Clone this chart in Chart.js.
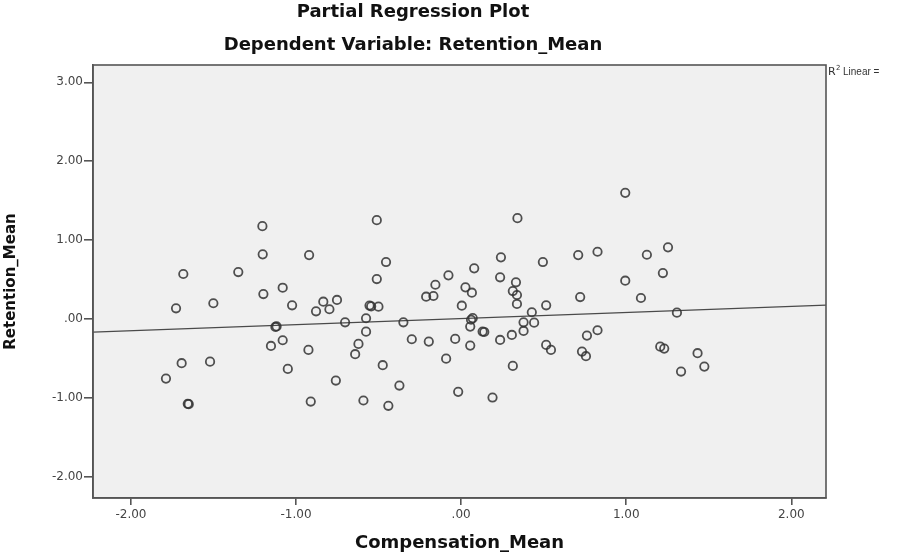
<!DOCTYPE html>
<html>
<head>
<meta charset="utf-8">
<title>Partial Regression Plot</title>
<script src="https://cdn.jsdelivr.net/npm/chart.js@4.4.1/dist/chart.umd.min.js"></script>
<style>
  html, body { margin: 0; padding: 0; background: #fff; overflow: hidden; }
  canvas { display: block; }
</style>
</head>
<body>
<canvas id="plot" width="916" height="556"></canvas>
<script>
// Compensation_Mean (x) and Retention_Mean (y)
const compX = [
  -1.204, -1.202, -0.921, -1.683, -1.350, -1.081, -1.198, -1.727, -1.501, -1.024,
  -0.835, -0.879, -0.798, -0.752, -1.125, -1.118, -1.081, -1.152, -0.925, -1.693,
  -1.521, -1.050, -1.788, -0.759, -1.656, -1.650, -0.911,
  -0.511, 0.341, -0.455, 0.241, 0.495, 0.709, -0.511, -0.077, 0.079,
  0.236, -0.156, 0.026, 0.065, 0.332, 0.313, 0.338, -0.212, -0.168, -0.555,
  -0.545, -0.501, 0.004, 0.338, 0.515, 0.721, 0.428, -0.703, -0.576, -0.350,
  0.060, 0.070, 0.055, 0.378, 0.442, -0.576, 0.130, 0.140, 0.378, 0.307,
  0.236, -0.299, -0.196, -0.036, 0.055, -0.622, -0.642, 0.515, 0.544, -0.091,
  -0.475, 0.313, -0.374, -0.592, -0.441, -0.018, 0.190,
  0.994, 0.826, 1.125, 1.253, 1.222, 0.994, 1.089, 1.307, 0.826, 0.762,
  0.732, 0.756, 1.206, 1.230, 1.432, 1.473, 1.332
];
const retY = [
  1.177, 0.819, 0.810, 0.570, 0.595, 0.396, 0.316, 0.135, 0.199, 0.173,
  0.219, 0.097, 0.123, 0.241, -0.101, -0.095, -0.270, -0.342, -0.392, -0.561,
  -0.541, -0.633, -0.756, -0.781, -1.076, -1.080, -1.047,
  1.253, 1.278, 0.722, 0.781, 0.722, 0.810, 0.506, 0.553, 0.642,
  0.528, 0.434, 0.401, 0.333, 0.465, 0.354, 0.304, 0.282, 0.291, 0.170,
  0.160, 0.156, 0.168, 0.190, 0.173, 0.278, 0.085, -0.042, 0.009, -0.042,
  -0.010, 0.010, -0.097, -0.042, -0.047, -0.161, -0.160, -0.165, -0.152, -0.203,
  -0.266, -0.257, -0.287, -0.253, -0.338, -0.316, -0.447, -0.329, -0.392, -0.503,
  -0.586, -0.595, -0.844, -1.034, -1.101, -0.924, -0.996,
  1.599, 0.852, 0.814, 0.908, 0.582, 0.485, 0.266, 0.080, -0.143, -0.211,
  -0.414, -0.472, -0.351, -0.376, -0.434, -0.604, -0.667
];

// fit line (R2 Linear)
const fitSlope = 0.077;
const fitIntercept = 0.005;

// axis ranges and ticks
const xRange = [-2.23, 2.21];
const yRange = [-2.27, 3.22];
const xTicks = [-2, -1, 0, 1, 2];
const yTicks = [-2, -1, 0, 1, 2, 3];

const punktai = compX.map((x, i) => ({ x: x, y: retY[i] }));
const linija = xRange.map(x => ({ x: x, y: fitSlope * x + fitIntercept }));

function fmt(v) {
  return Number(v).toFixed(2).replace(/^(-?)0\./, '$1.');
}

const fonas = {
  id: 'fonas',
  beforeDraw(chart) {
    const { ctx, chartArea: a } = chart;
    ctx.save();
    ctx.fillStyle = '#f0f0f0';
    ctx.fillRect(a.left, a.top, a.right - a.left, a.bottom - a.top);
    ctx.restore();
  },
  afterDraw(chart) {
    const { ctx, chartArea: a } = chart;
    ctx.save();
    ctx.strokeStyle = '#555';
    ctx.lineWidth = 1.6;
    ctx.strokeRect(a.left, a.top, a.right - a.left, a.bottom - a.top);
    // R2 label to the right of the frame
    ctx.fillStyle = '#333';
    ctx.font = '11px "DejaVu Sans"';
    ctx.textBaseline = 'middle';
    ctx.fillText('R', a.right + 2, a.top + 7);
    ctx.font = '7px "DejaVu Sans"';
    ctx.fillText('2', a.right + 10, a.top + 3);
    ctx.font = '10px "Liberation Sans"';
    ctx.fillText('Linear =', a.right + 17, a.top + 7);
    ctx.restore();
  }
};

const tickFont = { family: 'DejaVu Sans', size: 12 };

new Chart(document.getElementById('plot'), {
  type: 'scatter',
  data: {
    datasets: [
      {
        data: punktai,
        pointStyle: 'circle',
        pointRadius: 4.2,
        pointBorderWidth: 1.8,
        borderColor: 'rgba(50,50,50,0.85)',
        backgroundColor: 'rgba(0,0,0,0)',
        order: 1
      },
      {
        type: 'line',
        data: linija,
        showLine: true,
        pointRadius: 0,
        borderWidth: 1.4,
        borderColor: '#4a4a4a',
        order: 2
      }
    ]
  },
  options: {
    responsive: false,
    animation: false,
    devicePixelRatio: 1,
    layout: { padding: { left: 0, right: 90, top: 0, bottom: 0 } },
    plugins: {
      legend: { display: false },
      tooltip: { enabled: false },
      title: {
        display: true,
        text: 'Partial Regression Plot',
        color: '#111',
        font: { family: 'DejaVu Sans', size: 18, weight: 'bold' },
        padding: { top: 2, bottom: 4 }
      },
      subtitle: {
        display: true,
        text: 'Dependent Variable: Retention_Mean',
        color: '#111',
        font: { family: 'DejaVu Sans', size: 18, weight: 'bold' },
        padding: { top: 6.6, bottom: 9.2 }
      }
    },
    scales: {
      x: {
        type: 'linear',
        min: xRange[0],
        max: xRange[1],
        afterBuildTicks: s => { s.ticks = xTicks.map(v => ({ value: v })); },
        afterFit: s => { s.height = 58; },
        ticks: { color: '#444', font: tickFont, padding: 3, callback: v => fmt(v) },
        grid: { drawOnChartArea: false, drawTicks: true, tickLength: 7, color: '#555', lineWidth: 1.6 },
        border: { display: true, color: '#555', width: 1.6 },
        title: {
          display: true,
          text: 'Compensation_Mean',
          color: '#111',
          font: { family: 'DejaVu Sans', size: 18, weight: 'bold' },
          padding: { top: 0, bottom: 2 }
        }
      },
      y: {
        type: 'linear',
        min: yRange[0],
        max: yRange[1],
        afterBuildTicks: s => { s.ticks = yTicks.map(v => ({ value: v })); },
        afterFit: s => { s.width = 93; },
        ticks: { color: '#444', font: tickFont, padding: 1, callback: v => fmt(v) },
        grid: { drawOnChartArea: false, drawTicks: true, tickLength: 9, color: '#555', lineWidth: 1.6 },
        border: { display: true, color: '#555', width: 1.6 },
        title: {
          display: true,
          text: 'Retention_Mean',
          color: '#111',
          font: { family: 'DejaVu Sans', size: 15, weight: 'bold' },
          padding: { top: 2, bottom: 0 }
        }
      }
    }
  },
  plugins: [fonas]
});
</script>
</body>
</html>
